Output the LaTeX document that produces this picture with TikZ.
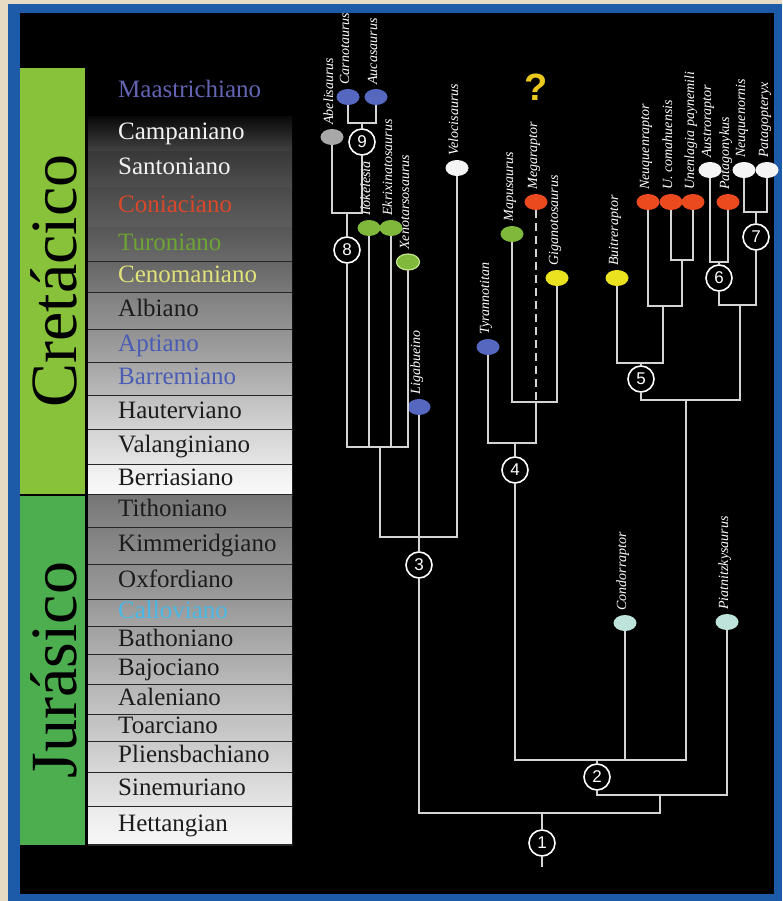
\documentclass[tikz,border=0pt]{standalone}
\usepackage{fontspec}
\setmainfont{Liberation Serif}
\newfontfamily\cladefont{Liberation Sans}
\usetikzlibrary{positioning,shapes.geometric}

\definecolor{beige}{HTML}{E8DBC3}
\definecolor{frameblue}{HTML}{1D5BA8}
\definecolor{cretgreen}{HTML}{88C23A}
\definecolor{jurgreen}{HTML}{4DAE4F}
\definecolor{branchgray}{HTML}{D4D4D4}
\definecolor{ovblue}{HTML}{5567BE}
\definecolor{ovgrey}{HTML}{A8A8A8}
\definecolor{ovgreen}{HTML}{80B83C}
\definecolor{ovred}{HTML}{EA4A1E}
\definecolor{ovyellow}{HTML}{EAE21E}
\definecolor{ovwhite}{HTML}{F4F4F4}
\definecolor{ovpale}{HTML}{BDE3DA}
\definecolor{ringgreen}{HTML}{C8E890}
\definecolor{stmaas}{HTML}{6464B4}
\definecolor{stred}{HTML}{D9482A}
\definecolor{stgreen}{HTML}{6EA434}
\definecolor{styellow}{HTML}{E2E27A}
\definecolor{stblue}{HTML}{4A5CB4}
\definecolor{stcyan}{HTML}{48B8E6}
\definecolor{stdark}{HTML}{1C1C1C}
\definecolor{stwhite}{HTML}{F2F2F2}
\definecolor{qyellow}{HTML}{EAC81E}

\tikzset{
  branch/.style={draw=branchgray, line width=1.6pt},
  oval/.style={ellipse, fill=#1, minimum width=23pt, minimum height=16pt, inner sep=0pt},
  taxon/.style={rotate=90, anchor=base west, text=white, inner sep=0pt,
    font=\fontsize{14}{14}\selectfont\itshape},
  clade/.style={circle, draw=white, fill=black, line width=1.6pt, minimum size=26pt,
    inner sep=0pt, text=white, font=\cladefont\fontsize{17}{17}\selectfont},
  stage/.style={anchor=base west, inner sep=0pt, font=\fontsize{25}{25}\selectfont},
  era/.style={rotate=90, anchor=base, inner sep=0pt, text=black,
    font=\fontsize{66}{66}\selectfont},
  rowline/.style={draw=black!85, line width=1.2pt},
}

\begin{document}
\begin{tikzpicture}[x=1pt, y=-1pt]
  \useasboundingbox (0,0) rectangle (782,901);
  \fill[beige] (0,0) rectangle (782,901);
  \fill[frameblue] (8,4) rectangle (782,901);
  \fill[black] (20,13) rectangle (774,894);

  % eras
  \fill[cretgreen] (20,68) rectangle (85,494);
  \fill[jurgreen] (20,496) rectangle (85,845);
  \node[era] (cret) at (76,281) {Cretácico};
  \node[era] (jur) at (76,670) {Jurásico};

  % stages
  \node[stage, text=stmaas] (Maastrichiano) at (118,98) {Maastrichiano};
  \foreach \yt/\yb/\stname/\tcol/\ct/\cb in {
    117/152/Campaniano/stwhite/4/26,
    152/188/Santoniano/stwhite/22/31,
    188/228/Coniaciano/stred/29/37,
    228/262/Turoniano/stgreen/34/42,
    262/293/Cenomaniano/styellow/40/48,
    293/330/Albiano/stdark/50/58,
    330/363/Aptiano/stblue/57/65,
    363/396/Barremiano/stblue/65/73,
    396/430/Hauterviano/stdark/75/83,
    430/465/Valanginiano/stdark/83/90,
    465/495/Berriasiano/stdark/93/98,
    495/528/Tithoniano/stdark/46/53,
    528/565/Kimmeridgiano/stdark/50/57,
    565/600/Oxfordiano/stdark/55/61,
    600/627/Calloviano/stcyan/59/65,
    627/655/Bathoniano/stdark/63/69,
    655/685/Bajociano/stdark/67/73,
    685/715/Aaleniano/stdark/71/77,
    715/742/Toarciano/stdark/75/80,
    742/773/Pliensbachiano/stdark/79/85,
    773/807/Sinemuriano/stdark/84/90,
    807/845/Hettangian/stdark/92/97}
  {
    \shade[top color=white!\ct!black, bottom color=white!\cb!black] (88,\yt) rectangle (292,\yb);
    \draw[rowline] (88,\yb) -- (292,\yb);
    \node[stage, text=\tcol] (\stname) at (118,{(\yt+\yb)/2+5}) {\stname};
  }

  % taxa
  \foreach \n/\x/\y/\c/\t in {
    abel/332/137/ovgrey/Abelisaurus,
    carno/348/97/ovblue/Carnotaurus,
    auca/376/97/ovblue/Aucasaurus,
    iloke/369/228/ovgreen/Ilokelesia,
    ekrix/391/228/ovgreen/Ekrixinatosaurus,
    xeno/408/262/ovgreen/Xenotarsosaurus,
    liga/419/407/ovblue/Ligabueino,
    veloc/457/168/ovwhite/Velocisaurus,
    tyran/488/347/ovblue/Tyrannotitan,
    mapu/512/234/ovgreen/Mapusaurus,
    mega/536/202/ovred/Megaraptor,
    giga/557/278/ovyellow/Giganotosaurus,
    buitre/617/278/ovyellow/Buitreraptor,
    neuqr/648/202/ovred/Neuquenraptor,
    ucoma/671/202/ovred/U. comahuensis,
    upayn/693/202/ovred/Unenlagia paynemili,
    austro/710/170/ovwhite/Austroraptor,
    patag/728/202/ovred/Patagonykus,
    neuqo/744/170/ovwhite/Neuquenornis,
    patop/767/170/ovwhite/Patagopteryx,
    condor/625/623/ovpale/Condorraptor,
    piat/727/622/ovpale/Piatnitzkysaurus}
  {
    \node[oval=\c] (\n) at (\x,\y) {};
    \node[taxon] (\n-name) at ([shift={(1,-4)}]\n.north) {\t};
  }
  \draw[ringgreen, line width=1.2pt] (xeno.center) ellipse (11.5 and 8);
  \node[text=qyellow, font=\cladefont\bfseries\fontsize{38}{38}\selectfont] (query) at (536,87) {?};

  % clades
  \foreach \k/\x/\y in {1/542/843, 2/597/777, 3/419/565, 4/515/470, 5/641/379,
                        6/719/278, 7/756/237, 8/347/250, 9/362/142}
    \node[clade] (n\k) at (\x,\y) {\k};

  \coordinate (j9) at (362,123);
  \coordinate (k8) at (362,213);
  \coordinate (j8) at (347,213);
  \coordinate (g8) at (347,447);
  \coordinate (a3) at (380,447);
  \coordinate (b3) at (380,537);
  \coordinate (s1) at (660,813);
  \coordinate (r1) at (542,813);
  \coordinate (root) at (542,867);
  \coordinate (q2) at (660,795);
  \coordinate (p2) at (597,760);
  \coordinate (m5) at (686,400);
  \coordinate (t4) at (515,443);
  \coordinate (u4) at (536,402);
  \coordinate (v5) at (682,260);
  \coordinate (w5) at (682,306);
  \coordinate (x5) at (663,363);
  \coordinate (y5) at (641,363);
  \coordinate (z67) at (740,400);
  \coordinate (h67) at (740,305);
  \coordinate (k6) at (719,262);
  \coordinate (k7) at (756,212);

  % clades 9, 8 and 3
  \draw[branch] (carno) |- (j9) -| (auca);
  \draw[branch] (j9) -- (n9) -- (k8) -| (abel);
  \draw[branch] (j8) -- (n8) -- (g8) -| (xeno);
  \draw[branch] (iloke) -- (iloke |- g8);
  \draw[branch] (ekrix) -- (ekrix |- g8);
  \draw[branch] (a3) -- (b3) -| (veloc);
  \draw[branch] (liga) -- (n3) |- (s1) -- (q2);
  \draw[branch] (r1) -- (n1) -- (root);

  % clade 2
  \draw[branch] (p2) -- (n2) |- (q2) -| (piat);
  \draw[branch] (n4) |- (p2) -| (m5);
  \draw[branch] (condor) -- (condor |- p2);

  % clade 4
  \draw[branch] (t4) -- (n4);
  \draw[branch] (tyran) |- (t4) -| (u4);
  \draw[branch] (mapu) |- (u4) -| (giga);
  \draw[branch, dash pattern=on 8pt off 5pt] (mega) -- (u4);

  % clades 5, 6 and 7
  \draw[branch] (ucoma) |- (v5) -| (upayn);
  \draw[branch] (v5) -- (w5) -| (neuqr);
  \draw[branch] (buitre) |- (x5) -- (w5 -| x5);
  \draw[branch] (y5) -- (n5) |- (z67) -- (h67);
  \draw[branch] (austro) |- (k6) -| (patag);
  \draw[branch] (k6) -- (n6) |- (h67) -| (n7);
  \draw[branch] (neuqo) |- (k7) -| (patop);
  \draw[branch] (k7) -- (n7);
\end{tikzpicture}
\end{document}
